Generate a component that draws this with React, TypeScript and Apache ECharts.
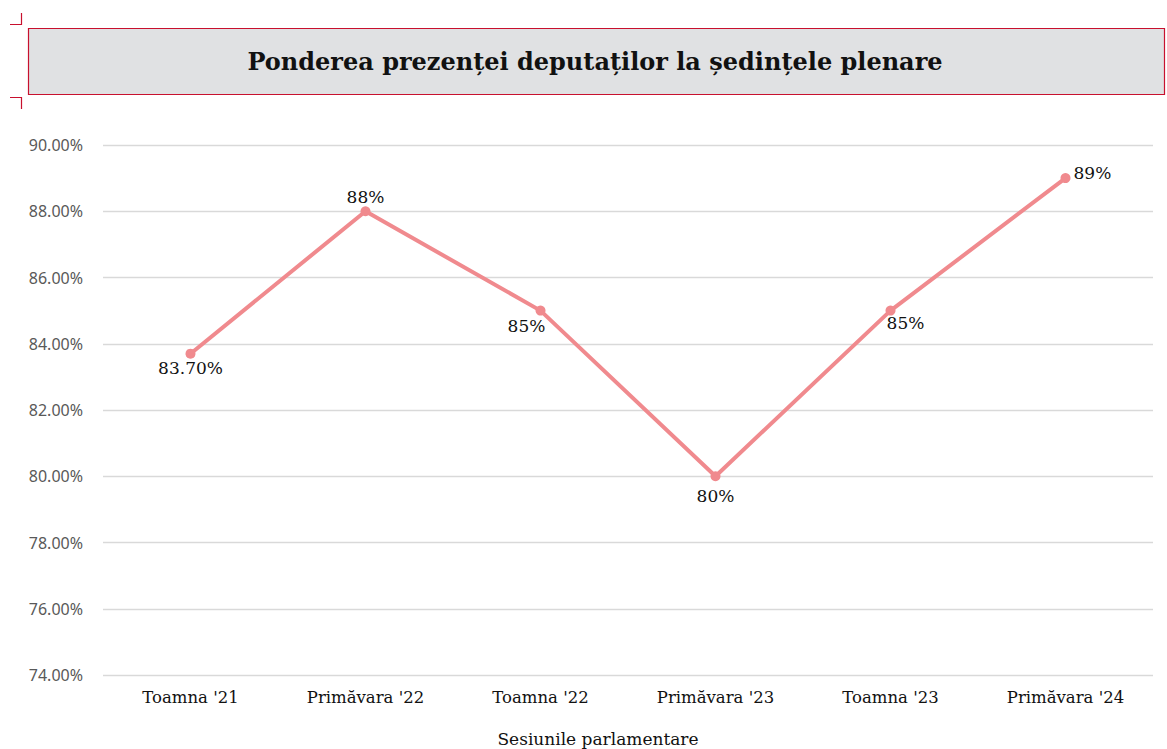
import React, { useEffect, useRef } from "react";
import * as echarts from "echarts";

const categories = ["Toamna '21", "Primăvara '22", "Toamna '22", "Primăvara '23", "Toamna '23", "Primăvara '24"];
const values = [83.7, 88, 85, 80, 85, 89];
const valueLabels = ["83.70%", "88%", "85%", "80%", "85%", "89%"];
const labelPlacement: any[] = [
  { position: "bottom", offset: [0, -4] },
  { position: "top", offset: [0, 4] },
  { position: "bottom", offset: [-14, -3] },
  { position: "bottom", offset: [0, 1] },
  { position: "bottom", offset: [15, -6] },
  { position: "right", offset: [-2, -5] },
];
const yMin = 74;
const yMax = 90;
const yStep = 2;
const titleText = "Ponderea prezenței deputaților la ședințele plenare";
const xAxisTitle = "Sesiunile parlamentare";

export default function App() {
  const ref = useRef<HTMLDivElement>(null);
  useEffect(() => {
    if (!ref.current) return;
    const chart = echarts.init(ref.current, undefined, { renderer: "svg" });
    const lineColor = "#f08a8e";
    const red = "#c8102e";
    chart.setOption({
      animation: false,
      backgroundColor: "#ffffff",
      graphic: [
        {
          type: "rect",
          shape: { x: 28.5, y: 28.5, width: 1136, height: 66 },
          style: { fill: "#e0e1e3", stroke: red, lineWidth: 1.2 },
        },
        {
          type: "polyline",
          shape: { points: [[10, 24.5], [21.5, 24.5], [21.5, 13]] },
          style: { stroke: red, lineWidth: 1.2, fill: null },
        },
        {
          type: "polyline",
          shape: { points: [[10, 97.5], [21.5, 97.5], [21.5, 109]] },
          style: { stroke: red, lineWidth: 1.2, fill: null },
        },
        {
          type: "text",
          x: 595,
          y: 61,
          style: {
            text: titleText,
            fill: "#111111",
            font: "bold 24px 'DejaVu Serif'",
            align: "center",
            verticalAlign: "middle",
          },
        },
      ],
      grid: { left: 103, right: 14, top: 145, height: 530, containLabel: false, outerBoundsMode: "none" },
      xAxis: {
        type: "category",
        data: categories,
        boundaryGap: true,
        name: xAxisTitle,
        nameLocation: "middle",
        nameGap: 55,
        nameTextStyle: { fontFamily: "DejaVu Serif", fontSize: 17, color: "#111111", padding: [0, 60, 0, 0] },
        axisLine: { show: false },
        axisTick: { show: false },
        axisLabel: { fontFamily: "DejaVu Serif", fontSize: 16.5, color: "#111111", margin: 14 },
      },
      yAxis: {
        type: "value",
        min: yMin,
        max: yMax,
        interval: yStep,
        axisLine: { show: false },
        axisTick: { show: false },
        splitLine: { lineStyle: { color: "#d9d9d9", width: 1.3 } },
        axisLabel: {
          fontFamily: "Noto Sans",
          fontSize: 16,
          color: "#595959",
          margin: 20,
          formatter: (v: number) => v.toFixed(2) + "%",
        },
      },
      series: [
        {
          type: "line",
          data: values.map((v, i) => ({
            value: v,
            label: { ...labelPlacement[i], formatter: valueLabels[i] },
          })),
          symbol: "circle",
          symbolSize: 10,
          lineStyle: { color: lineColor, width: 4 },
          itemStyle: { color: lineColor },
          label: {
            show: true,
            fontFamily: "DejaVu Serif",
            fontSize: 17,
            color: "#111111",
          },
        },
      ],
    });
    return () => chart.dispose();
  }, []);
  return <div ref={ref} style={{ width: 1167, height: 749, position: "absolute", left: 0, top: 0 }} />;
}
